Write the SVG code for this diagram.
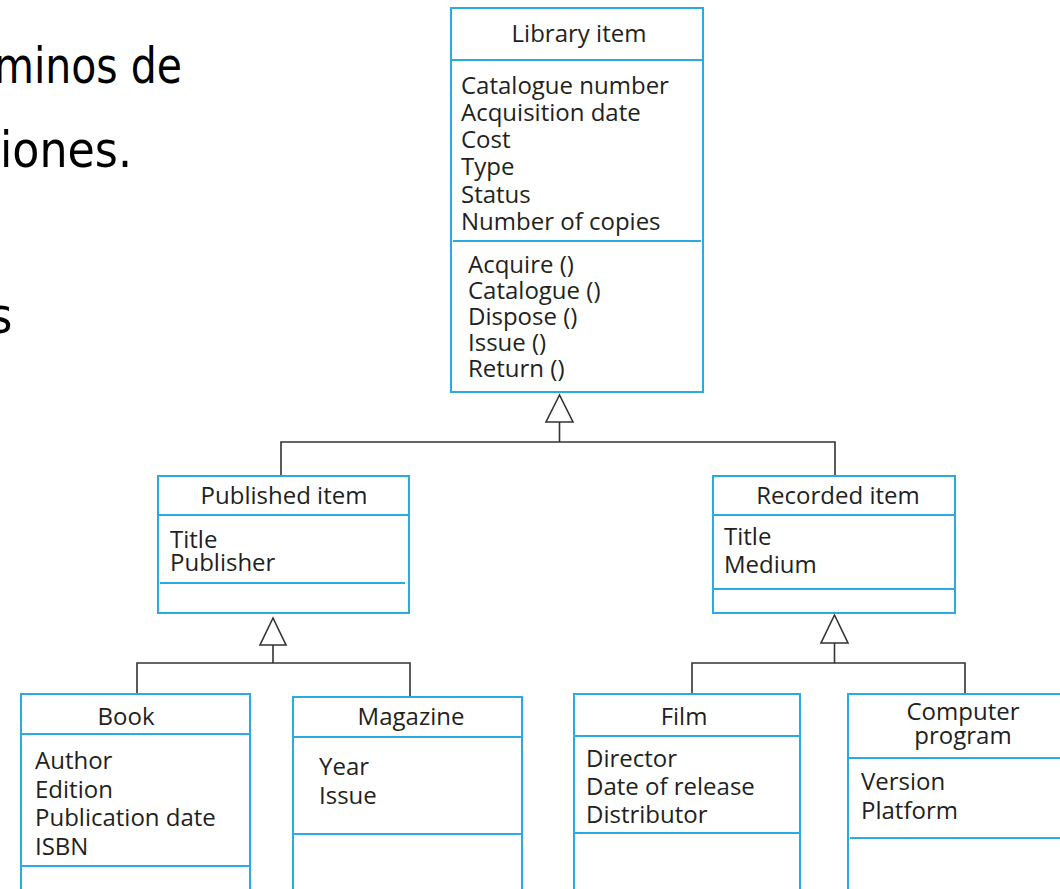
<svg xmlns="http://www.w3.org/2000/svg" width="1060" height="889" viewBox="0 0 1060 889">
<style>
.bg{fill:#ffffff}
.box{fill:#ffffff;stroke:#29aae1;stroke-width:2}
.div{stroke:#29aae1;stroke-width:2;fill:none}
.t{font-family:"Open Sans","Noto Sans","Liberation Sans",sans-serif;font-size:24px;fill:#231f20}
.c{text-anchor:middle}
.big{font-family:"DejaVu Sans Condensed","DejaVu Sans","Liberation Sans",sans-serif;font-size:50px;fill:#000000}
.conn{stroke:#333333;stroke-width:1.6;fill:none}
.tri{stroke:#333333;stroke-width:1.6;fill:#ffffff}
</style>
<rect class="bg" x="0" y="0" width="1060" height="889"/>
<g id="slide-text">
<text class="big" x="-6" y="83" textLength="188" lengthAdjust="spacingAndGlyphs">minos de</text>
<text class="big" x="0" y="167" textLength="132" lengthAdjust="spacingAndGlyphs">iones.</text>
<text class="big" x="-11" y="333">s</text>
</g>
<g id="connectors">
<polyline class="conn" points="281,476 281,442 835,442 835,476"/>
<line class="conn" x1="559.5" y1="422" x2="559.5" y2="442"/>
<polygon class="tri" points="559.5,395 546,422 573,422"/>
<polyline class="conn" points="137,694 137,663 410,663 410,697"/>
<line class="conn" x1="273" y1="645" x2="273" y2="663"/>
<polygon class="tri" points="273,618 260,645 286,645"/>
<polyline class="conn" points="692,694 692,663 965,663 965,693"/>
<line class="conn" x1="834.5" y1="643" x2="834.5" y2="663"/>
<polygon class="tri" points="834.5,615 821,643 848,643"/>
</g>
<g id="library-item">
<rect class="box" x="451" y="8" width="252" height="384"/>
<line class="div" x1="451" y1="60" x2="703" y2="60"/>
<line class="div" x1="453" y1="241" x2="701" y2="241"/>
<text class="t c" x="579" y="42">Library item</text>
<text class="t" x="461" y="94">Catalogue number</text>
<text class="t" x="461" y="121">Acquisition date</text>
<text class="t" x="461" y="148">Cost</text>
<text class="t" x="461" y="175">Type</text>
<text class="t" x="461" y="203">Status</text>
<text class="t" x="461" y="230">Number of copies</text>
<text class="t" x="468" y="273">Acquire ()</text>
<text class="t" x="468" y="299">Catalogue ()</text>
<text class="t" x="468" y="325">Dispose ()</text>
<text class="t" x="468" y="351">Issue ()</text>
<text class="t" x="468" y="377">Return ()</text>
</g>
<g id="published-item">
<rect class="box" x="158" y="476" width="251" height="137"/>
<line class="div" x1="158" y1="515" x2="409" y2="515"/>
<line class="div" x1="160" y1="583" x2="405" y2="583"/>
<text class="t c" x="284" y="504">Published item</text>
<text class="t" x="170" y="548">Title</text>
<text class="t" x="170" y="571">Publisher</text>
</g>
<g id="recorded-item">
<rect class="box" x="713" y="476" width="242" height="137"/>
<line class="div" x1="713" y1="515" x2="955" y2="515"/>
<line class="div" x1="713" y1="589" x2="955" y2="589"/>
<text class="t c" x="838" y="504">Recorded item</text>
<text class="t" x="724" y="545">Title</text>
<text class="t" x="724" y="573">Medium</text>
</g>
<g id="book">
<rect class="box" x="21" y="694" width="229" height="210"/>
<line class="div" x1="21" y1="734" x2="250" y2="734"/>
<line class="div" x1="21" y1="866" x2="250" y2="866"/>
<text class="t c" x="126" y="725">Book</text>
<text class="t" x="35" y="769">Author</text>
<text class="t" x="35" y="798">Edition</text>
<text class="t" x="35" y="826">Publication date</text>
<text class="t" x="35" y="855">ISBN</text>
</g>
<g id="magazine">
<rect class="box" x="293" y="697" width="229" height="210"/>
<line class="div" x1="293" y1="737" x2="522" y2="737"/>
<line class="div" x1="293" y1="834" x2="522" y2="834"/>
<text class="t c" x="411" y="725">Magazine</text>
<text class="t" x="319" y="775">Year</text>
<text class="t" x="319" y="804">Issue</text>
</g>
<g id="film">
<rect class="box" x="574" y="694" width="226" height="210"/>
<line class="div" x1="574" y1="736" x2="800" y2="736"/>
<line class="div" x1="574" y1="833" x2="800" y2="833"/>
<text class="t c" x="684" y="725">Film</text>
<text class="t" x="586" y="767">Director</text>
<text class="t" x="586" y="795">Date of release</text>
<text class="t" x="586" y="823">Distributor</text>
</g>
<g id="computer-program">
<rect class="box" x="848" y="694" width="230" height="210"/>
<line class="div" x1="848" y1="758" x2="1060" y2="758"/>
<line class="div" x1="850" y1="838" x2="1060" y2="838"/>
<text class="t c" x="963" y="720">Computer</text>
<text class="t c" x="963" y="744">program</text>
<text class="t" x="861" y="790">Version</text>
<text class="t" x="861" y="819">Platform</text>
</g>
</svg>
